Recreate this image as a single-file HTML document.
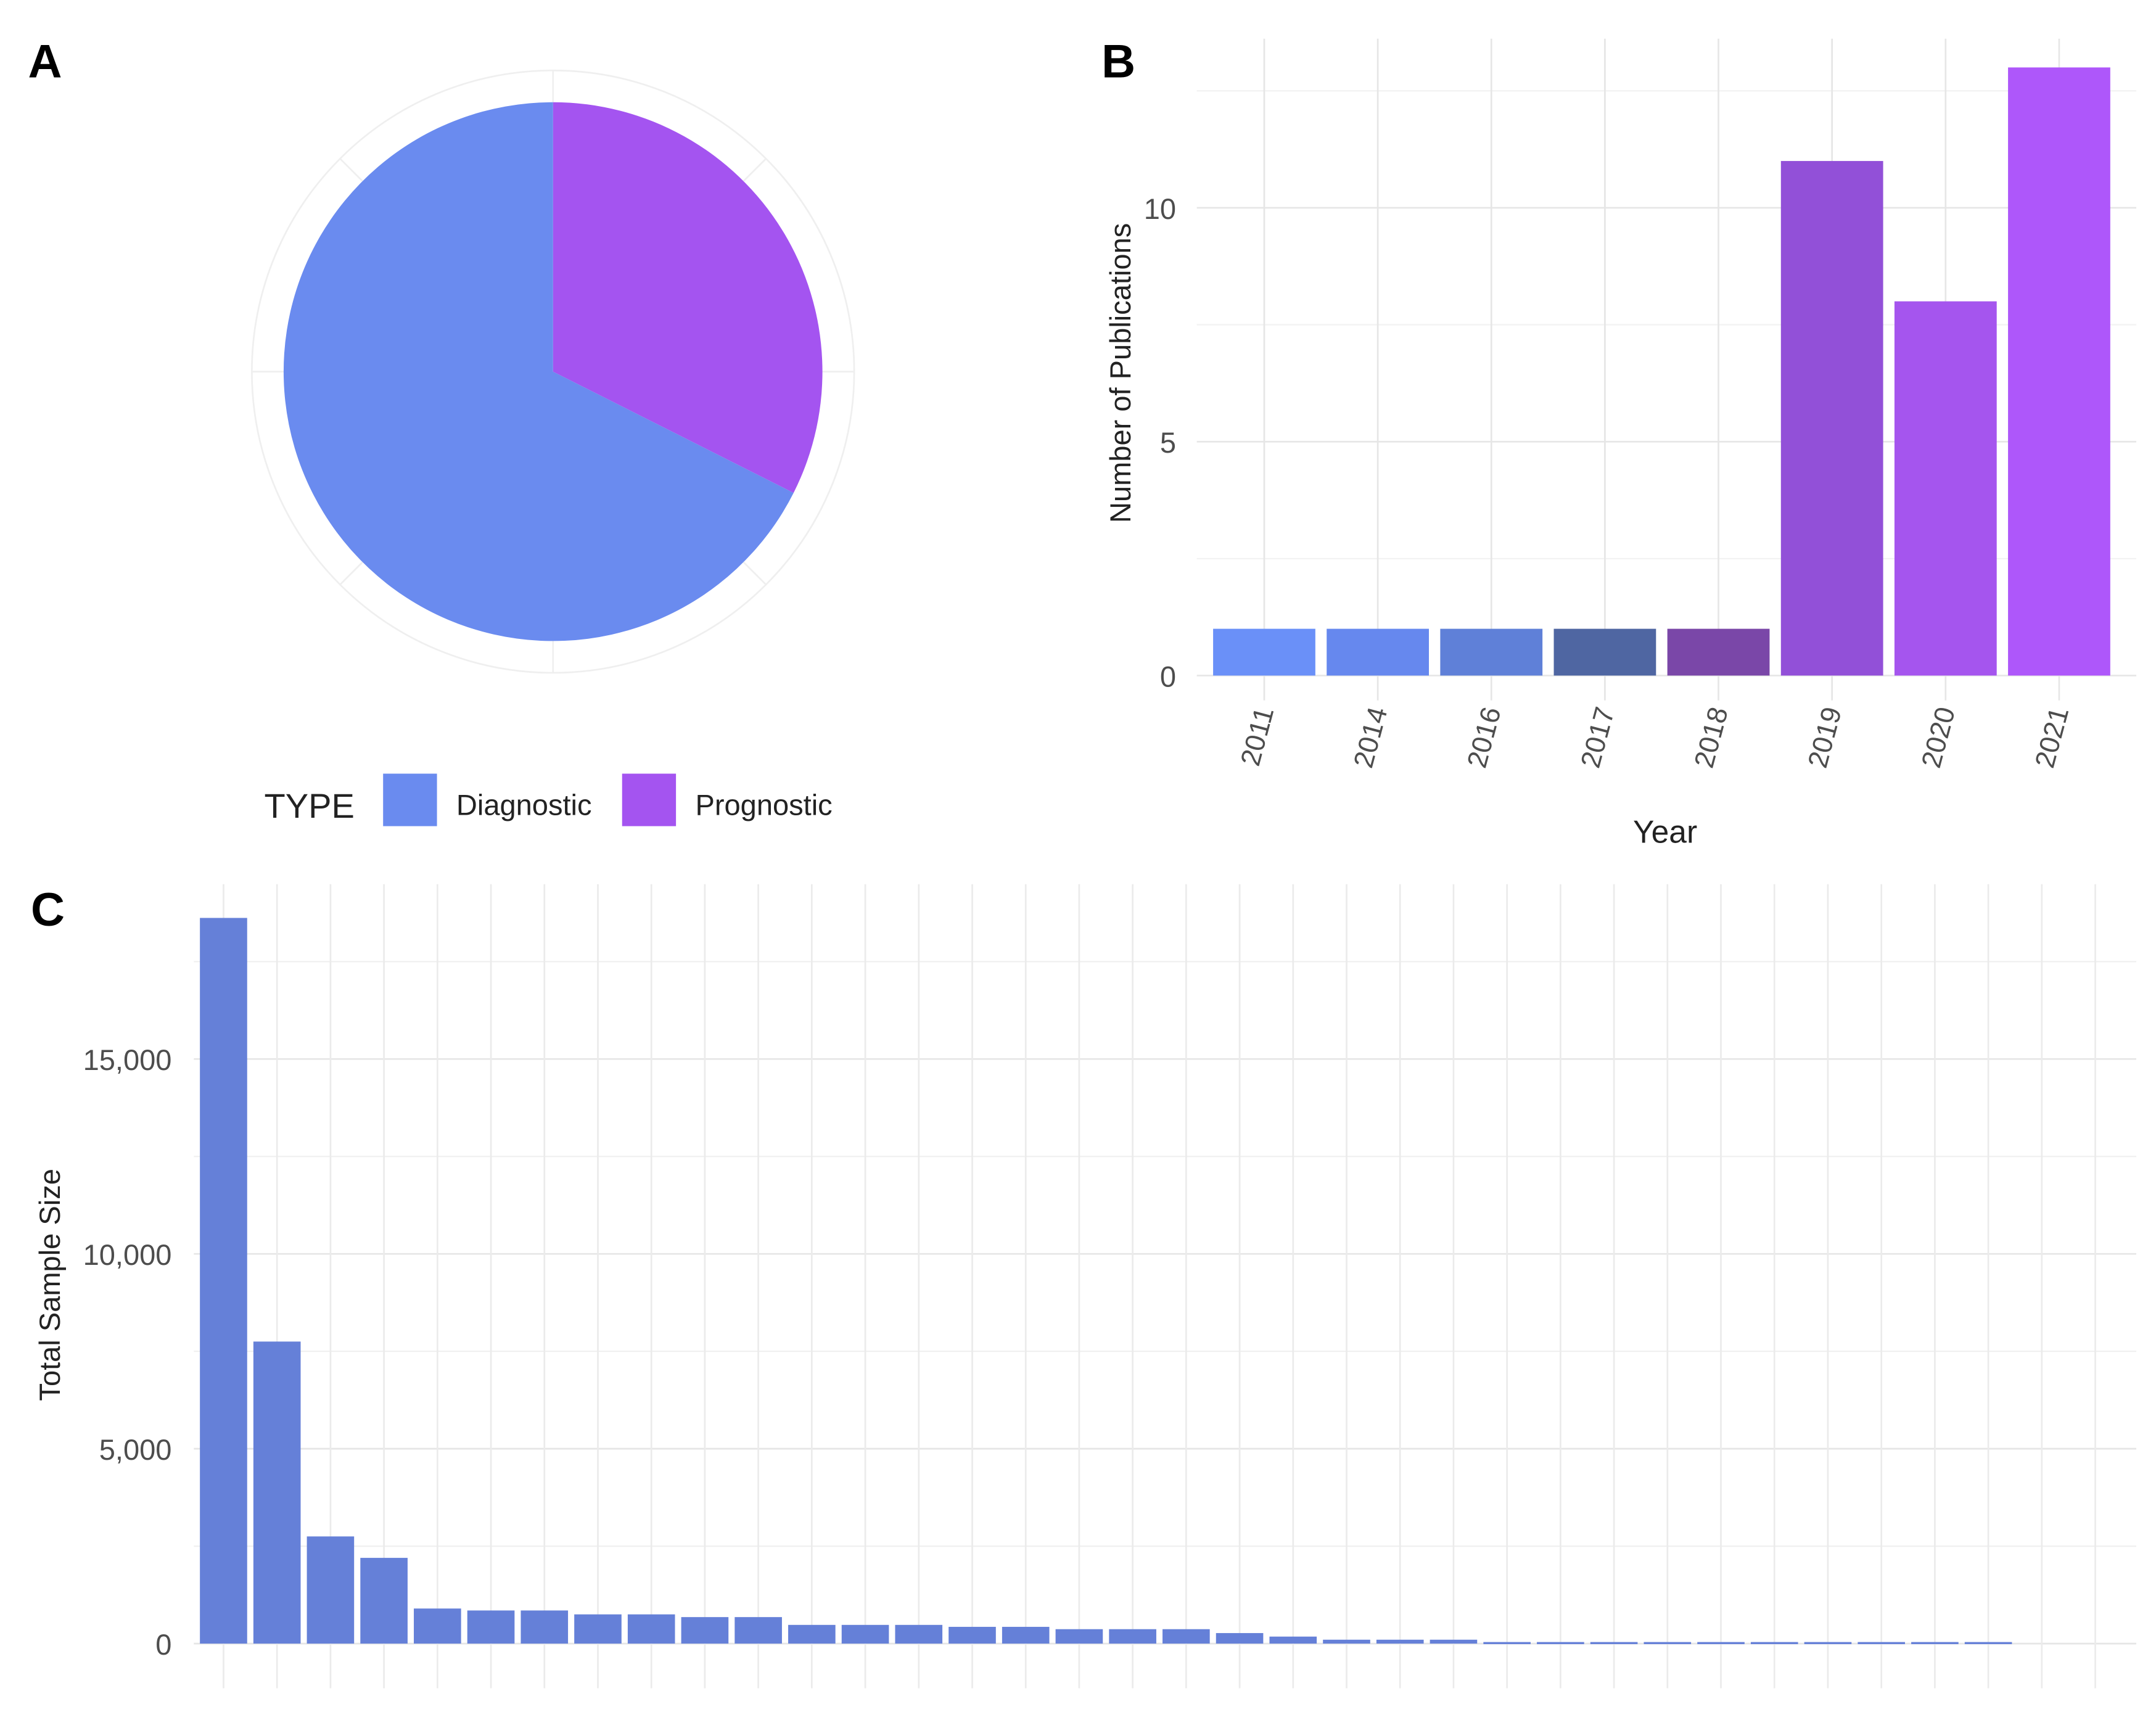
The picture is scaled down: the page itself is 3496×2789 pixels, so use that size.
<!DOCTYPE html>
<html><head><meta charset="utf-8">
<style>
html,body{margin:0;padding:0;background:#fff;}
svg{display:block;}
text{font-family:"Liberation Sans",sans-serif;}
</style></head>
<body>
<svg id="fig" width="3496" height="2789" viewBox="0 0 1560 1245" xmlns="http://www.w3.org/2000/svg">
<rect x="0" y="0" width="1560" height="1245" fill="#fff"/>
<g id="pA"></g>
<g id="pB"></g>
<g id="pC"></g>
<text x="20" y="56" font-size="34" font-weight="bold" fill="#000">A</text>
<text x="797" y="56" font-size="34" font-weight="bold" fill="#000">B</text>
<text x="22" y="670" font-size="34" font-weight="bold" fill="#000">C</text>
</svg>
<script>
const pieCategories = ["Diagnostic","Prognostic"];
const pieValues = [25, 12];
const pieColors = ["#6a8bef","#a454f0"];

const years = ["2011","2014","2016","2017","2018","2019","2020","2021"];
const pubCounts = [1,1,1,1,1,11,8,13];
const yearColors = ["#6a90f8","#6688ee","#5f80d8","#4f66a2","#7a47a8","#9250d8","#a555ee","#ae57fa"];
const pubTicks = [0,5,10];

const sampleSizes = [18620,7750,2750,2200,900,850,850,750,750,680,680,480,480,480,430,430,370,370,370,270,180,100,100,100,40,40,40,40,40,40,40,40,40,40];
const sampleTicks = [0,5000,10000,15000];
const sampleTickLabels = ["0","5,000","10,000","15,000"];
const nSlots = 36;

const NS = "http://www.w3.org/2000/svg";
function mk(parent, tag, attrs, txt){
  const e = document.createElementNS(NS, tag);
  for (const k in attrs) e.setAttribute(k, attrs[k]);
  if (txt !== undefined) e.textContent = txt;
  parent.appendChild(e);
  return e;
}

// ---------- Panel A ----------
(function(){
  const g = document.getElementById('pA');
  const cx = 400, cy = 269, r = 195, rg = 218;
  mk(g,'circle',{cx:cx,cy:cy,r:rg,fill:'none',stroke:'#efefef','stroke-width':1.2});
  for (let i=0;i<8;i++){
    const a = i/8*2*Math.PI;
    mk(g,'line',{x1:cx+r*Math.sin(a),y1:cy-r*Math.cos(a),x2:cx+rg*Math.sin(a),y2:cy-rg*Math.cos(a),stroke:'#efefef','stroke-width':1.2});
  }
  const total = pieValues.reduce((a,b)=>a+b,0);
  const order = [1,0];
  let start = 0;
  order.forEach(idx=>{
    const frac = pieValues[idx]/total;
    const a0 = start*2*Math.PI, a1 = (start+frac)*2*Math.PI;
    const large = frac>0.5?1:0;
    const d = `M${cx},${cy} L${cx+r*Math.sin(a0)},${cy-r*Math.cos(a0)} A${r},${r} 0 ${large} 1 ${cx+r*Math.sin(a1)},${cy-r*Math.cos(a1)} Z`;
    const p = mk(g,'path',{d:d,fill:pieColors[idx]});
    
    
    start += frac;
  });
  const lg = mk(g,'g',{});
  
  
  mk(lg,'text',{x:191,y:592,'font-size':25,fill:'#222'},'TYPE');
  const lx = [277,450], tx = [330,503];
  pieCategories.forEach((c,i)=>{
    const k = mk(lg,'rect',{x:lx[i],y:560,width:39,height:38,fill:pieColors[i]});
    
    
    const t = mk(lg,'text',{x:tx[i],y:590,'font-size':21,fill:'#222'},c);
    
    
  });
})();

// ---------- Panel B ----------
(function(){
  const g = document.getElementById('pB');
  const x0 = 866, x1 = 1546, top = 28, bottom = 507;
  const y = v => 489 - v*33.86;
  const step = 82.2, first = 914.8, bw = 74;
  const xc = i => first + i*step;
  [2.5,7.5,12.5].forEach(v=>mk(g,'line',{x1:x0,x2:x1,y1:y(v),y2:y(v),stroke:'#f2f2f2','stroke-width':1}));
  pubTicks.forEach(v=>mk(g,'line',{x1:x0,x2:x1,y1:y(v),y2:y(v),stroke:'#e6e6e6','stroke-width':1.2}));
  years.forEach((yr,i)=>mk(g,'line',{x1:xc(i),x2:xc(i),y1:top,y2:bottom,stroke:'#e6e6e6','stroke-width':1.2}));
  years.forEach((yr,i)=>{
    const b = mk(g,'rect',{x:xc(i)-bw/2,y:y(pubCounts[i]),width:bw,height:y(0)-y(pubCounts[i]),fill:yearColors[i]});
    
    
    const t = mk(g,'text',{x:0,y:0,'font-size':20,fill:'#4d4d4d','text-anchor':'end',transform:`translate(${xc(i)+7},${514}) rotate(-75)`},yr);
    
    
  });
  pubTicks.forEach(v=>{
    const t = mk(g,'text',{x:851,y:y(v)+8,'font-size':21,fill:'#4d4d4d','text-anchor':'end'},String(v));
    
    
  });
  const yt = mk(g,'text',{x:0,y:0,'font-size':21,fill:'#222','text-anchor':'middle',transform:'translate(818,270) rotate(-90)'},'Number of Publications');
  
  
  const xt = mk(g,'text',{x:1205,y:610,'font-size':23,fill:'#222','text-anchor':'middle'},'Year');
  
  
})();

// ---------- Panel C ----------
(function(){
  const g = document.getElementById('pC');
  const x0 = 140, x1 = 1546, top = 640, bottom = 1222;
  const y = v => 1189.7 - v*0.02821;
  const step = 38.71, first = 161.5, bw = 34.2;
  const xc = i => first + i*step;
  [2500,7500,12500,17500].forEach(v=>mk(g,'line',{x1:x0,x2:x1,y1:y(v),y2:y(v),stroke:'#f0f0f0','stroke-width':1}));
  sampleTicks.forEach(v=>mk(g,'line',{x1:x0,x2:x1,y1:y(v),y2:y(v),stroke:'#e6e6e6','stroke-width':1.2}));
  for (let i=0;i<nSlots;i++) mk(g,'line',{x1:xc(i),x2:xc(i),y1:top,y2:bottom,stroke:'#ebebeb','stroke-width':1.2});
  sampleSizes.forEach((v,i)=>{
    const b = mk(g,'rect',{x:xc(i)-bw/2,y:y(v),width:bw,height:Math.max(1.5,y(0)-y(v)),fill:'#6580d8'});
    
    
  });
  sampleTicks.forEach((v,i)=>{
    const t = mk(g,'text',{x:124,y:y(v)+8,'font-size':21,fill:'#4d4d4d','text-anchor':'end'},sampleTickLabels[i]);
    
    
  });
  const yt = mk(g,'text',{x:0,y:0,'font-size':21,fill:'#222','text-anchor':'middle',transform:'translate(43,930) rotate(-90)'},'Total Sample Size');
  
  
})();
</script>
</body></html>
